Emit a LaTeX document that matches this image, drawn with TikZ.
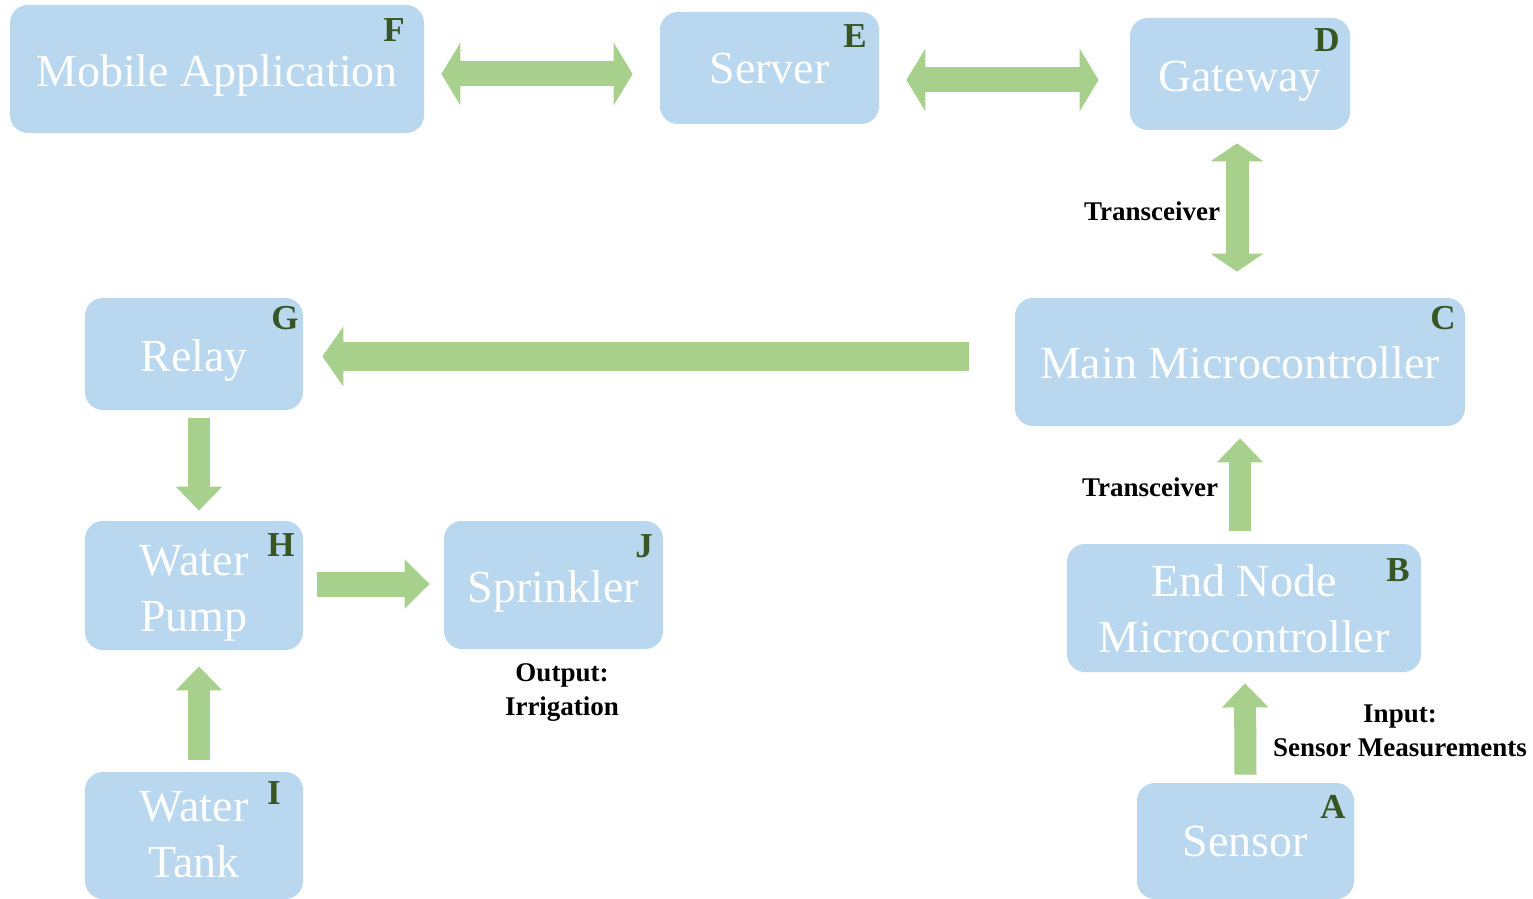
\documentclass[tikz,border=0pt]{standalone}
\usepackage{fontspec}
\setmainfont{Liberation Serif}
\usetikzlibrary{arrows.meta,calc}
\definecolor{boxblue}{HTML}{B9D7EE}
\definecolor{agreen}{HTML}{A8D08D}
\definecolor{lgreen}{HTML}{375623}
\newcommand{\bt}[2][2.5pt]{\raisebox{-#1}[\height][\depth]{\begin{tabular}{@{}c@{}}#2\end{tabular}}}
\tikzset{
  box/.style={fill=boxblue, rounded corners=9pt, inner sep=0pt,
    text=white, font=\fontsize{23}{28}\selectfont},
  letter/.style={text=lgreen, inner sep=0pt, font=\bfseries\fontsize{17.5}{20}\selectfont},
  lbl/.style={text=black, inner sep=0pt, align=center, font=\bfseries\fontsize{13.5}{17}\selectfont},
  dblarrow/.style={draw=agreen, line width=12.5pt, line cap=butt,
    {Triangle[length=9.5pt,width=31pt]}-{Triangle[length=9.5pt,width=31pt]}},
  vdblarrow/.style={draw=agreen, line width=11.5pt, line cap=butt,
    {Triangle[length=9pt,width=26pt]}-{Triangle[length=9pt,width=26pt]}},
  bigarrow/.style={draw=agreen, line width=14.5pt, line cap=butt,
    -{Triangle[length=10.5pt,width=29.5pt]}},
  smallarrow/.style={draw=agreen, line width=11pt, line cap=butt,
    -{Triangle[length=12pt,width=22.5pt]}},
  harrow/.style={draw=agreen, line width=12.5pt, line cap=butt,
    -{Triangle[length=12.5pt,width=24pt]}}
}
\begin{document}
\begin{tikzpicture}[x=0.5pt,y=-0.5pt]
\useasboundingbox (0,0) rectangle (1533,899);
% boxes
\node[box, minimum width=207pt, minimum height=64pt] (F) at (217,69) {\bt[3pt]{Mobile Application}};
\node[box, minimum width=109.5pt, minimum height=56pt] (E) at (769.5,68) {\bt[2pt]{Server}};
\node[box, minimum width=110pt, minimum height=56pt] (D) at (1240,74) {\bt[3pt]{Gateway}};
\node[box, minimum width=225pt, minimum height=64pt] (C) at (1240,362) {\bt[2.5pt]{Main Microcontroller}};
\node[box, minimum width=109pt, minimum height=56pt] (G) at (194,354) {\bt[3pt]{Relay}};
\node[box, minimum width=109pt, minimum height=64.5pt] (H) at (194,585.5) {\bt[3.5pt]{Water\\Pump}};
\node[box, minimum width=109.5pt, minimum height=64pt] (J) at (553.5,585) {\bt[3pt]{Sprinkler}};
\node[box, minimum width=177pt, minimum height=64pt] (B) at (1244,608) {\bt[2.5pt]{End Node\\Microcontroller}};
\node[box, minimum width=108.5pt, minimum height=58pt] (A) at (1245.5,841) {\bt[2pt]{Sensor}};
\node[box, minimum width=109pt, minimum height=63.5pt] (I) at (194,835.5) {\bt[1.5pt]{Water\\Tank}};
% letters
\node[letter] (Fl) at (394,30) {F};
\node[letter] (El) at (855,36) {E};
\node[letter] (Dl) at (1327,40) {D};
\node[letter] (Cl) at (1443,318) {C};
\node[letter] (Gl) at (285,318) {G};
\node[letter] (Hl) at (281,545) {H};
\node[letter] (Jl) at (644,546) {J};
\node[letter] (Bl) at (1398,570) {B};
\node[letter] (Al) at (1333,807) {A};
\node[letter] (Il) at (274,793) {I};
% labels
\node[lbl] (t1) at (1152,211) {Transceiver};
\node[lbl] (t2) at (1150,487) {Transceiver};
\node[lbl] (inp) at (1400,731) {Input:\\Sensor Measurements};
\node[lbl] (outp) at (562,693) {Output:\\Irrigation};
% arrows
\draw[dblarrow] ($(F.east)+(17,5)$) -- ($(E.west)+(-27,6)$);
\draw[dblarrow] ($(E.east)+(27,12)$) -- ($(D.west)+(-31,6)$);
\draw[vdblarrow] ($(D.south)+(-3,13)$) -- ($(C.north)+(-3,-26)$);
\draw[bigarrow] ($(C.west)+(-46,-5.5)$) -- ($(G.east)+(19,2.5)$);
\draw[smallarrow] ($(G.south)+(5,8)$) -- ($(H.north)+(5,-10)$);
\draw[smallarrow] ($(I.north)+(5,-12)$) -- ($(H.south)+(5,16)$);
\draw[harrow] ($(H.east)+(14,-1.5)$) -- ($(J.west)+(-14,-1)$);
\draw[smallarrow] ($(B.north)+(-4,-13)$) -- ($(C.south)+(0,12)$);
\draw[smallarrow] ($(A.north)+(0,-8)$) -- ($(B.south)+(1,11)$);
\end{tikzpicture}
\end{document}
